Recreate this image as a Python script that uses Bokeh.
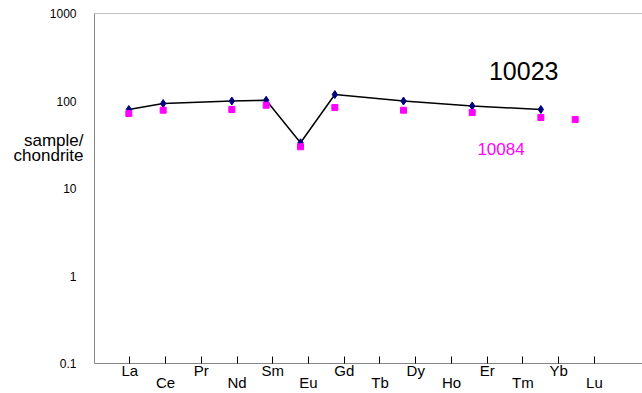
from bokeh.plotting import figure
from bokeh.models import Range1d, LinearAxis, LogAxis, FixedTicker, Span, Label
from bokeh.embed import file_html
from bokeh.resources import INLINE

# ---- data ----
elements = ["La", "Ce", "Pr", "Nd", "Sm", "Eu", "Gd", "Tb", "Dy", "Ho", "Er", "Tm", "Yb", "Lu"]

s10023_elems = ["La", "Ce", "Nd", "Sm", "Eu", "Gd", "Dy", "Er", "Yb"]
s10023_vals = [80, 93.5, 100, 102, 33.3, 118.5, 100, 87.8, 80]

s10084_elems = ["La", "Ce", "Nd", "Sm", "Eu", "Gd", "Dy", "Er", "Yb", "Lu"]
s10084_vals = [71.9, 78.5, 79.9, 89.4, 30, 84.2, 78.5, 73.8, 64.8, 61.5]

y_ticks = [0.1, 1, 10, 100, 1000]
y_tick_labels = ["0.1", "1", "10", "100", "1000"]

# y title, two lines, and the heights (data units) at which they sit
y_title_lines = ["sample/", "chondrite"]
y_title_at = [35.7, 24.1]

FONT = "Liberation Sans"
AXIS_GREY = "#868686"

x23 = [elements.index(e) for e in s10023_elems]
x84 = [elements.index(e) for e in s10084_elems]

p = figure(width=642, height=393, output_backend="svg", toolbar_location=None,
           y_axis_type="log", x_axis_location=None,
           x_range=Range1d(-1.0, 14.96), y_range=Range1d(0.1, 1000),
           min_border_left=94, min_border_right=0, min_border_top=13, min_border_bottom=29)
p.outline_line_color = None
p.xgrid.visible = False
p.ygrid.visible = False
p.background_fill_color = "white"
p.border_fill_color = "white"

# label axis (spacing differs slightly from data spacing, as in the original)
p.extra_x_ranges = {"labels": Range1d(-0.988, 14.345)}
xa = LinearAxis(x_range_name="labels")
xa.ticker = FixedTicker(ticks=list(range(len(elements))))
xa.major_label_overrides = {i: (e if i % 2 == 0 else "\n" + e) for i, e in enumerate(elements)}
xa.axis_line_color = AXIS_GREY
xa.major_tick_in = 7
xa.major_tick_out = 0
xa.major_tick_line_color = "black"
xa.major_tick_line_width = 1
xa.minor_tick_line_color = None
xa.major_label_standoff = -2
xa.major_label_text_font = FONT
xa.major_label_text_font_size = "15px"
xa.major_label_text_color = "black"
xa.major_label_text_line_height = 0.72
p.add_layout(xa, "below")

ya = p.yaxis[0]
ya.ticker = FixedTicker(ticks=y_ticks)
ya.major_label_overrides = {t: l for t, l in zip(y_ticks, y_tick_labels)}
ya.axis_line_color = AXIS_GREY
ya.major_tick_line_color = None
ya.minor_tick_line_color = None
ya.major_label_standoff = 12
ya.major_label_text_font = FONT
ya.major_label_text_font_size = "12px"
ya.major_label_text_color = "black"

# y title drawn by a second, line-less axis placed outside the first one
yb = LogAxis()
yb.ticker = FixedTicker(ticks=y_title_at)
yb.major_label_overrides = {t: l for t, l in zip(y_title_at, y_title_lines)}
yb.axis_line_color = None
yb.major_tick_line_color = None
yb.minor_tick_line_color = None
yb.major_label_standoff = -43
yb.major_label_text_font = FONT
yb.major_label_text_font_size = "17px"
yb.major_label_text_color = "black"
p.add_layout(yb, "left")

p.add_layout(Span(location=1000, dimension="width", line_color=AXIS_GREY, line_width=1))

# series
p.line(x23, s10023_vals, line_color="black", line_width=1.5)
p.scatter(x23, s10023_vals, marker="diamond", size=8, fill_color="#000080", line_color="#000080")
p.scatter(x84, s10084_vals, marker="square", size=6, fill_color="#FF00FF", line_color="#FF00FF")

# texts
p.add_layout(Label(x=11.5, y=218, text="10023", text_align="center", text_baseline="middle",
                   text_font=FONT, text_font_size="25px", text_color="black"))
p.add_layout(Label(x=10.84, y=28.6, text="10084", text_align="center", text_baseline="middle",
                   text_font=FONT, text_font_size="17px", text_color="#FF00FF"))

open("out.html", "w").write(file_html(p, INLINE))
